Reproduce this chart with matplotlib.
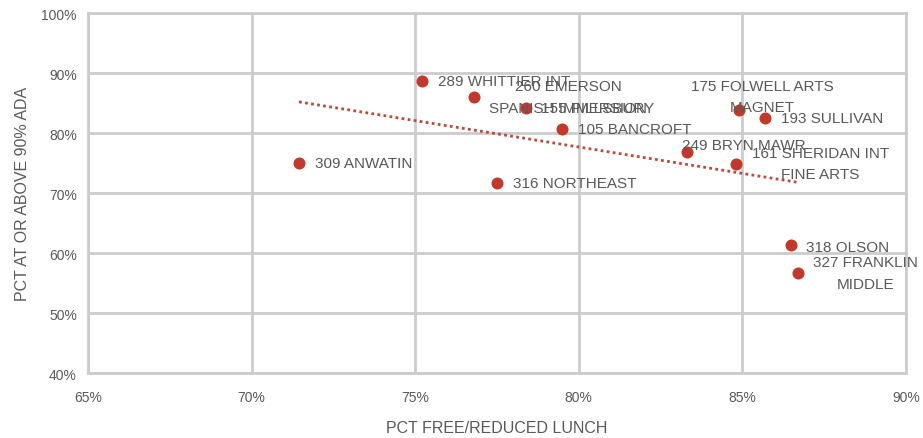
import numpy as np
import matplotlib.pyplot as plt

plt.rcParams['font.family'] = ['Liberation Sans', 'DejaVu Sans']

schools = ["309 ANWATIN", "289 WHITTIER INT", "260 EMERSON\nSPANISH IMMERSION",
           "155 PILLSBURY", "105 BANCROFT", "316 NORTHEAST", "249 BRYN MAWR",
           "175 FOLWELL ARTS\nMAGNET", "193 SULLIVAN", "161 SHERIDAN INT\nFINE ARTS",
           "318 OLSON", "327 FRANKLIN\nMIDDLE"]
free_lunch = np.array([71.45, 75.2, 76.8, 78.4, 79.5, 77.5, 83.3, 84.9, 85.7, 84.8, 86.5, 86.7]) / 100
ada = np.array([75.0, 88.7, 86.0, 84.2, 80.7, 71.7, 76.9, 83.9, 82.5, 74.9, 61.4, 56.7]) / 100

# label offsets in pixels (hand placed like the original)
offsets = [(16, 0), (16, 0), (15, 0), (15, 0), (16, 0), (16, 0), (-5, 7),
           (23, 13), (16, 0), (16, 0), (15, -2), (15, 0)]
halign = ['left'] * 7 + ['center'] + ['left'] * 4

grey = '#595959'
red = '#C0392B'

fig = plt.figure(figsize=(9.23, 4.39), dpi=100)
ax = fig.add_axes([0.0953, 0.148, 0.8863, 0.82])

ax.scatter(free_lunch, ada, s=75, color=red, zorder=3, linewidths=0)

# linear trendline
b, a = np.polyfit(free_lunch, ada, 1)
xt = np.array([free_lunch.min(), free_lunch.max()])
ax.plot(xt, a + b * xt, color='#BA4A3C', lw=2, ls=(0, (1, 1.2)), zorder=2)

for name, xv, yv, off, h in zip(schools, free_lunch, ada, offsets, halign):
    ax.annotate(name, (xv, yv), xytext=off, textcoords='offset pixels',
                ha=h, va='center', multialignment='center',
                fontsize=11, color=grey, linespacing=1.7, zorder=4)

ax.set_xlim(0.65, 0.90)
ax.set_ylim(0.40, 1.00)
ax.set_xticks(np.arange(0.65, 0.901, 0.05))
ax.set_yticks(np.arange(0.40, 1.001, 0.10))
ax.set_xticklabels(['{:.0f}%'.format(v * 100) for v in ax.get_xticks()])
ax.set_yticklabels(['{:.0f}%'.format(v * 100) for v in ax.get_yticks()])
ax.grid(True, color='#CCCCCC', lw=2)
ax.set_axisbelow(True)
for s in ax.spines.values():
    s.set_color('#CCCCCC')
    s.set_linewidth(2)
ax.tick_params(length=0, colors=grey, labelsize=10, pad=12)
ax.tick_params(axis='y', pad=8)

ax.set_xlabel('PCT FREE/REDUCED LUNCH', color=grey, fontsize=11.5, labelpad=12)
ax.set_ylabel('PCT AT OR ABOVE 90% ADA', color=grey, fontsize=11.5, labelpad=8)

fig.savefig('out.png', dpi=100)
